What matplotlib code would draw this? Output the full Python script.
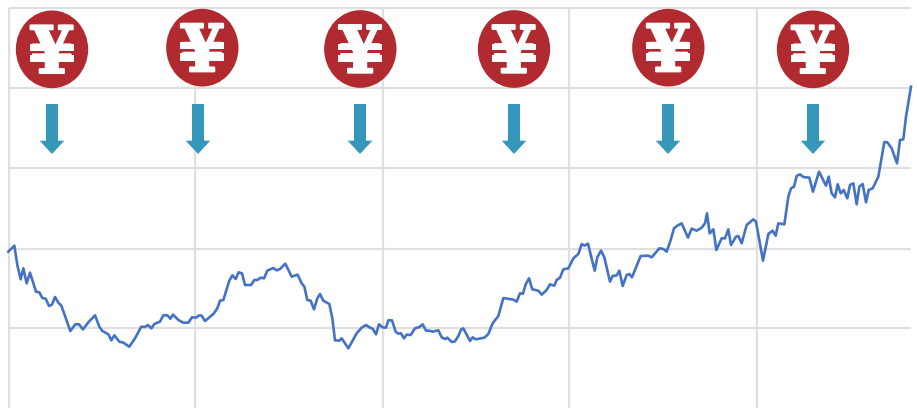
import matplotlib
matplotlib.use("Agg")
import matplotlib.pyplot as plt
import matplotlib.patheffects as pe
from matplotlib.patches import Ellipse, Polygon, Rectangle

# 3 units = 1 px
days = [25,43,52,62,70,80,90,108,118,127,137,147,156,165,175,184,211,226,237,249,265,285,298,307,325,334,343,358,370,388,
        405,424,435,444,454,463,480,490,502,511,519,535,550,565,576,587,598,605,615,640,652,660,670,688,697,707,716,726,735,753,
        763,772,782,792,802,820,830,840,856,875,893,905,913,922,932,942,952,960,970,988,997,1005,1018,1025,1045,1070,1085,1098,1108,1118,
        1128,1137,1148,1158,1165,1176,1187,1195,1203,1212,1220,1232,1245,1258,1268,1278,1288,1298,1315,1325,1335,1342,1355,1365,1375,1383,1390,1410,1418,1427,
        1453,1465,1478,1495,1510,1540,1550,1560,1569,1577,1587,1597,1615,1625,1640,1650,1663,1670,1680,1690,1705,1720,1735,1745,1753,1764,1784,1792,1803,1813,
        1830,1838,1850,1858,1868,1880,1888,1896,1922,1945,1955,1978,1990,2000,2012,2022,2032,2045,2064,2075,2090,2105,2115,2121,2129,2140,2149,2165,2175,2185,
        2193,2208,2215,2225,2240,2260,2268,2289,2305,2318,2327,2335,2353,2365,2373,2382,2390,2400,2410,2428,2439,2457,2478,2486,2495,2505,2513,2522,2531,2542,
        2550,2560,2570,2578,2588,2598,2606,2618,2635,2653,2662,2675,2691,2700,2710,2718,2733]
price = [469,487,429,386,419,374,406,349,347,330,328,306,310,333,316,307,231,251,251,236,257,278,244,231,221,203,218,199,196,184,
         209,244,243,249,239,252,259,278,278,268,280,264,256,256,272,271,278,277,261,282,299,322,324,382,398,387,407,404,369,369,
         384,384,391,389,412,420,413,417,433,394,400,374,364,324,322,296,329,342,322,312,269,203,202,209,179,224,241,249,242,238,
         221,251,242,241,263,263,229,223,224,209,220,219,239,243,251,232,232,229,233,212,207,211,198,200,216,235,239,201,212,206,
         211,222,254,276,330,325,319,344,343,371,389,356,352,340,354,371,367,384,391,416,419,449,462,492,487,493,412,452,472,452,
         379,396,398,412,366,399,402,392,456,457,452,479,477,469,504,539,547,554,511,538,532,541,554,584,524,536,474,509,509,536,
         489,514,516,494,549,566,559,442,522,532,517,554,551,634,659,664,696,701,693,691,649,709,667,694,644,632,671,644,654,629,
         669,674,611,664,672,617,654,659,694,798,797,779,734,804,806,874,964]

x_grid = [25.5, 586, 1148, 1708, 2270]
y_grid = [239, 477, 719, 960, 1201]

coin_x = [156, 607, 1081, 1542, 2005, 2439]
coin_y = [1076, 1081, 1077, 1077, 1081, 1076]
arrow_x = [156, 594, 1080, 1542, 2004, 2439]

fig = plt.figure(figsize=(9.17, 4.08), dpi=100)
ax = fig.add_axes([0, 0, 1, 1])
ax.set_xlim(0, 2751)
ax.set_ylim(0, 1224)
ax.axis("off")

for x in x_grid:
    ax.plot([x, x], [0, 1201], color="#dfdfdf", lw=1.6, zorder=1, solid_capstyle="butt")
for y in y_grid:
    ax.plot([25.5, 2733], [y, y], color="#dfdfdf", lw=1.6, zorder=1, solid_capstyle="butt")

ax.plot(days, price, color="#4472c4", lw=1.9, zorder=2, solid_joinstyle="round")

for x, y in zip(coin_x, coin_y):
    ax.add_patch(Ellipse((x, y), 217, 233, color="#b02a30", lw=0, zorder=3))
    ax.text(x, y - 17, "¥", color="white", fontsize=47, fontweight="bold", family="DejaVu Serif",
            ha="center", va="center", zorder=4,
            path_effects=[pe.withStroke(linewidth=1.5, foreground="white")])
    # the bars of the icon are wider and heavier than the font's
    ax.add_patch(Rectangle((x - 66, y - 4), 132, 20, color="white", lw=0, zorder=5))
    ax.add_patch(Rectangle((x - 66, y - 39), 132, 22, color="white", lw=0, zorder=5))

for x in arrow_x:
    ax.add_patch(Polygon([(x - 18, 912), (x + 18, 912), (x + 18, 802), (x + 37, 802),
                          (x, 762), (x - 37, 802), (x - 18, 802)],
                         closed=True, color="#3598bb", lw=0, zorder=3))

fig.savefig("out.png", dpi=100)
